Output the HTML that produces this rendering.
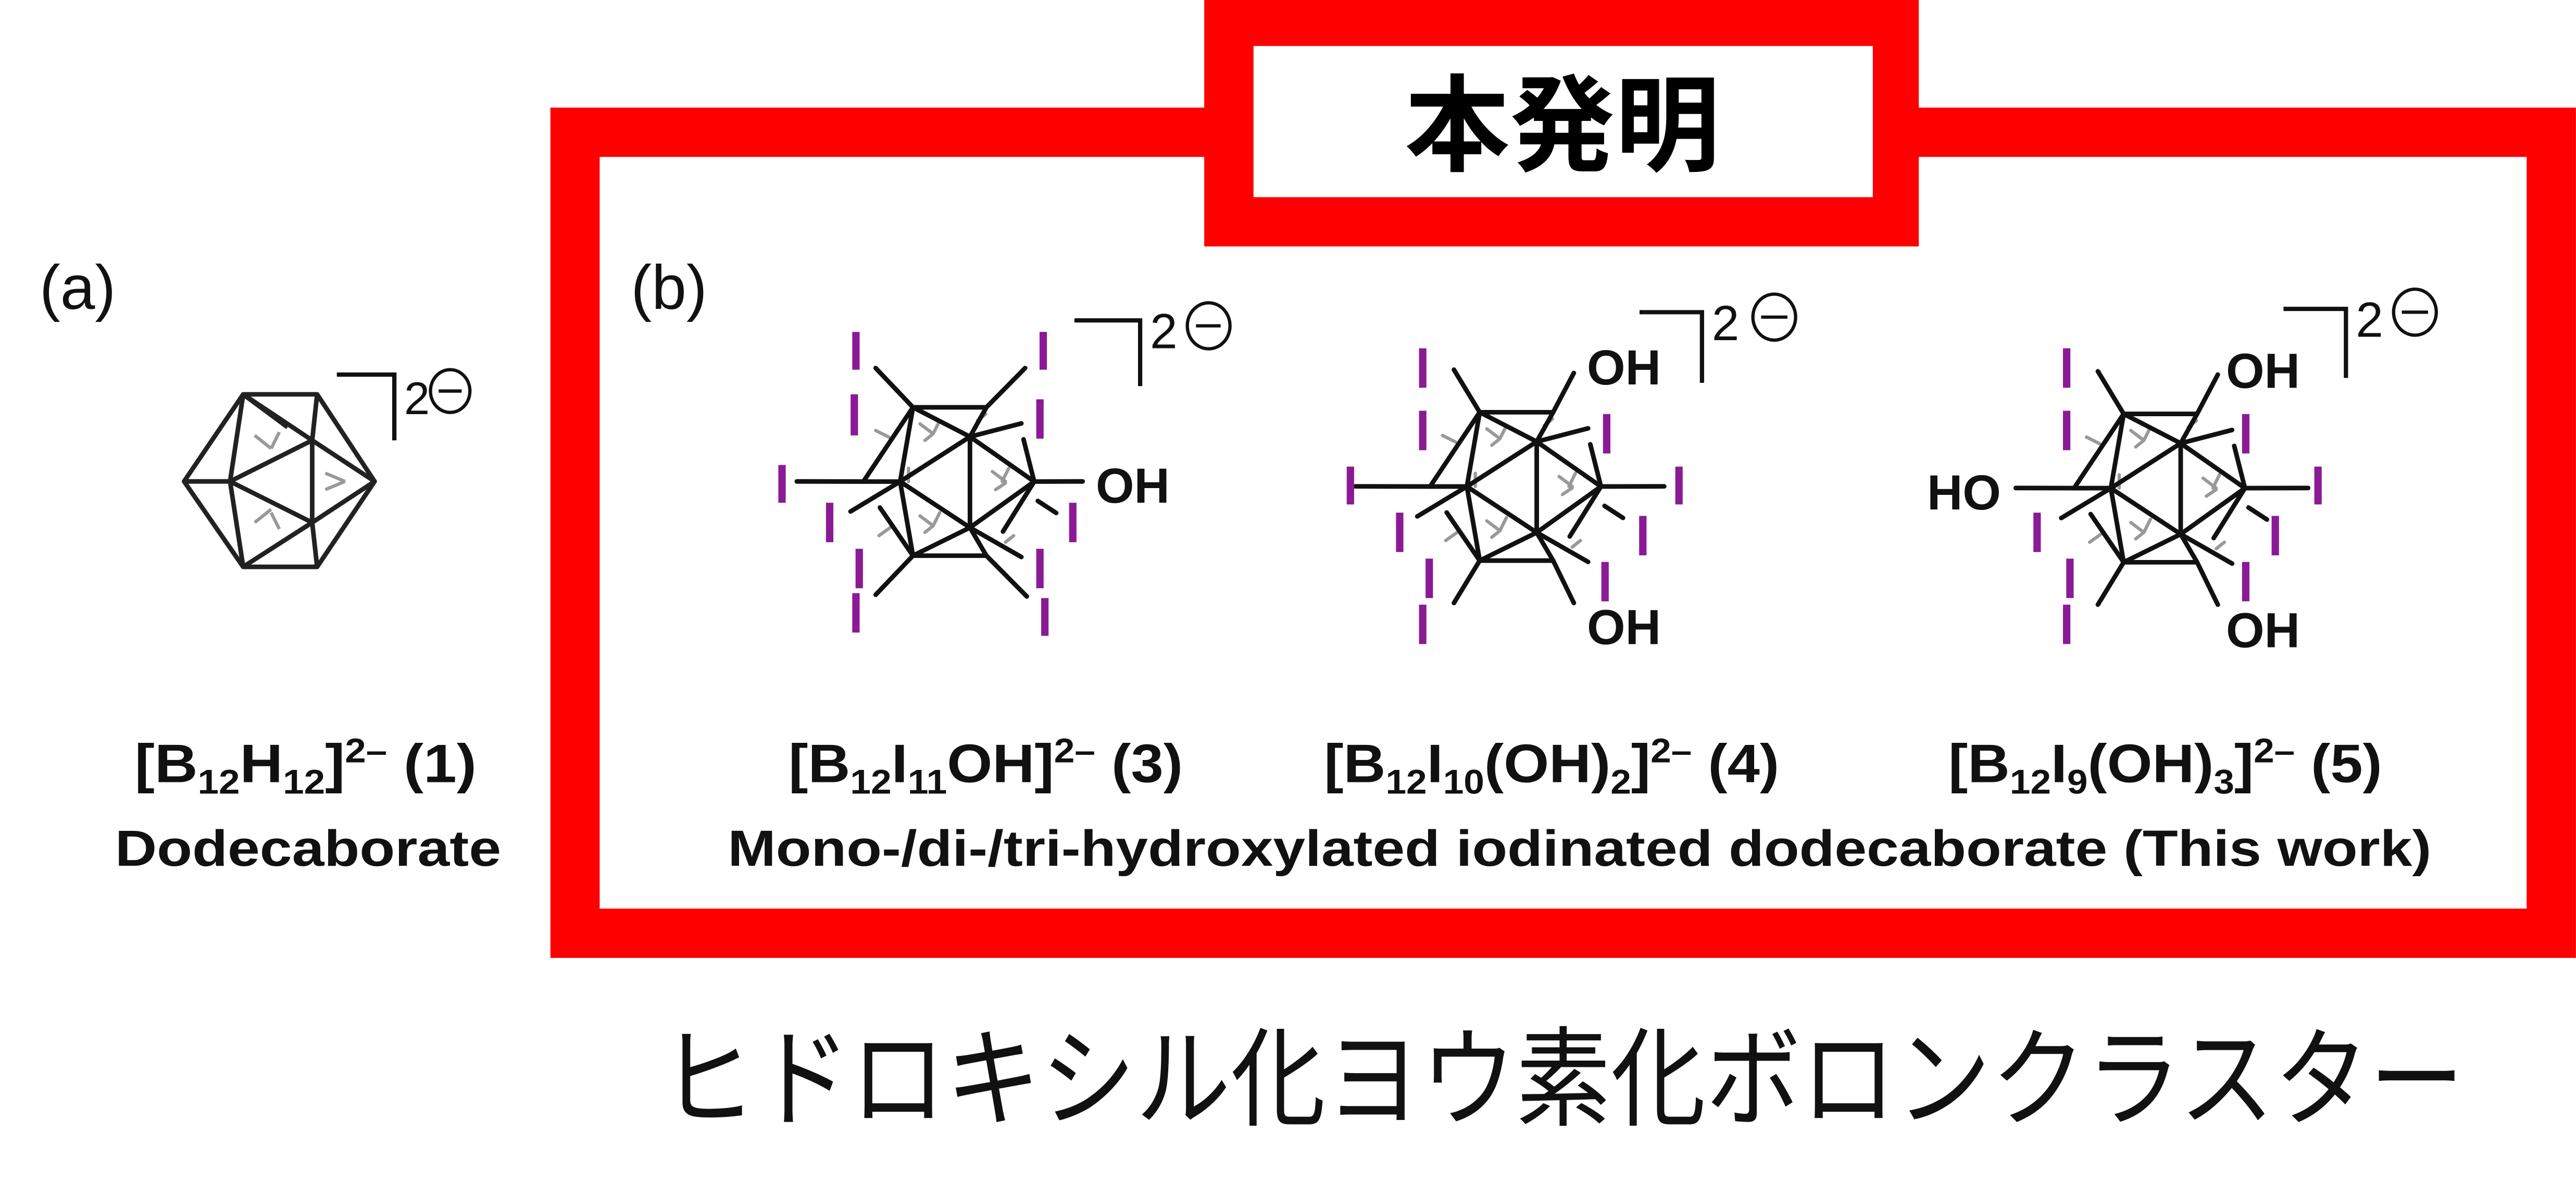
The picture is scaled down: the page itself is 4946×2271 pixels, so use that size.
<!DOCTYPE html>
<html><head><meta charset="utf-8">
<style>
html,body{margin:0;padding:0;background:#fff;}
svg{display:block;}
text{font-family:"Liberation Sans","Noto Sans CJK JP",sans-serif;}
</style></head>
<body>
<svg width="4946" height="2271" viewBox="0 0 1568 720" xmlns="http://www.w3.org/2000/svg">
<defs>
<g id="cl" stroke="#111" stroke-width="2.8" fill="none" stroke-linecap="round">
  <g stroke="#999" stroke-width="2">
    <path d="M560 258 l8 6 M572 256 l-4 8 M563 268 l5 -4"/>
    <path d="M560 314 l8 6 M572 312 l-4 8 M563 324 l5 -4"/>
    <path d="M604 287 l8 6 M614 285 l-4 8 M606 298 l6 -4"/>
    <path d="M533 262 l8 4 M535 326 l7 -5 M553 285 l0 8 M612 330 l5 -4 M600 252 l-5 4"/>
  </g>
  <path d="M555.7 247.9 L600.4 247.9 M555.7 247.9 L590.4 265.8 M555.7 247.9 L525.5 293.1 M555.7 247.9 L547.9 293.1 M600.4 247.9 L590.4 265.8 M590.4 265.8 L547.9 293.1 M590.4 265.8 L629.5 293.1 M590.4 265.8 L590.4 321.1 M525.5 293.1 L547.9 293.1 M547.9 293.1 L590.4 321.1 M547.9 293.1 L555.7 338.2 M590.4 321.1 L629.5 293.1 M590.4 321.1 L555.7 338.2 M555.7 338.2 L600.4 338.2 M600.4 338.2 L590.4 321.1"/>
  <path d="M623 267.4 L629.5 293.1 M610.5 323.5 L629.5 293.1 M535.6 308.9 L555.7 338.2 M590.4 265.8 L621.7 257.7 M547.9 293.1 L517.7 311.3 M590.4 321.1 L621.7 339 M631.7 304.9 L642.9 312.2"/>
</g>
</defs>

<rect x="350" y="80.5" width="1203" height="487.5" fill="none" stroke="#ff0000" stroke-width="30"/>
<rect x="733" y="0" width="435" height="150" fill="#ff0000"/>
<rect x="763" y="28" width="377" height="92" fill="#fff"/>
<text x="951" y="99" font-size="64" font-weight="bold" text-anchor="middle" fill="#000">本発明</text>

<text x="24" y="188" font-size="38" fill="#111">(a)</text>
<text x="384" y="188" font-size="38" fill="#111">(b)</text>

<g stroke="#222" stroke-width="2.8" fill="none" stroke-linejoin="round">
  <g stroke="#999" stroke-width="2"><path d="M155 265 l10 8 M170 263 l-5 10 M155 318 l10 -8 M170 322 l-5 -10 M198 288 l12 5 M198 298 l12 -5"/></g>
  <path d="M148 240 L193 240 L228 293 L193 345 L148 345 L112 293 Z"/>
  <path d="M148 240 L140 293 L148 345 M148 240 L190 268 L193 240 M190 268 L228 293 L190 318 L148 345 M140 293 L190 268 L190 318 L140 293 M112 293 L140 293 M193 345 L190 318 M148 240 L175 260"/>
</g>
<path d="M205 228 H240 V268" stroke="#111" stroke-width="2.6" fill="none"/>
<text x="246" y="252" font-size="28" fill="#111">2</text>
<ellipse cx="274" cy="238" rx="12" ry="13" fill="none" stroke="#111" stroke-width="2"/>
<path d="M267 238 H281" stroke="#111" stroke-width="2"/>

<use href="#cl"/>
<g stroke="#111" stroke-width="2.8" stroke-linecap="round">
  <path d="M555.7 247.9 L533 224 M600.4 247.9 L624 224 M525.5 293.1 L485 293 M629.5 293.1 L659 293 M555.7 338.2 L533 362 M600.4 338.2 L625 363"/>
</g>
<g stroke="#8b1a96" stroke-width="4.5">
  <path d="M521 202 V225 M635 202 V225 M520 240 V265 M633 243 V267 M476 283 V306 M505 306 V330 M653 306 V330 M523 334 V358 M633 334 V358 M521 361 V385 M636 364 V387"/>
</g>
<text x="667" y="306" font-size="30" font-weight="bold" fill="#111">OH</text>
<path d="M654 195 H694 V235" stroke="#111" stroke-width="2.6" fill="none"/>
<text x="700" y="212" font-size="30" fill="#111">2</text>
<ellipse cx="735.7" cy="198.3" rx="13" ry="14" fill="none" stroke="#111" stroke-width="2"/>
<path d="M728 198.3 H743" stroke="#111" stroke-width="2"/>

<g transform="translate(345,3)">
<use href="#cl"/>
<g stroke="#111" stroke-width="2.8" stroke-linecap="round">
  <path d="M555.7 247.9 L540 222 M600.4 247.9 L613 224 M525.5 293.1 L480 293 M629.5 293.1 L668 293 M555.7 338.2 L540 364 M600.4 338.2 L613 364"/>
</g>
</g>
<g stroke="#8b1a96" stroke-width="4.5">
  <path d="M866 212 V236 M866 250 V274 M978 252 V276 M822 284 V307 M1022 284 V307 M852 312 V336 M1000 314 V338 M870 340 V364 M977 342 V366 M866 368 V392"/>
</g>
<text x="966" y="234" font-size="30" font-weight="bold" fill="#111">OH</text>
<text x="966" y="392" font-size="30" font-weight="bold" fill="#111">OH</text>
<path d="M998 190 H1036 V233" stroke="#111" stroke-width="2.6" fill="none"/>
<text x="1042" y="207" font-size="30" fill="#111">2</text>
<ellipse cx="1080" cy="193" rx="13" ry="14" fill="none" stroke="#111" stroke-width="2"/>
<path d="M1072 193 H1088" stroke="#111" stroke-width="2"/>

<g transform="translate(737,4)">
<use href="#cl"/>
<g stroke="#111" stroke-width="2.8" stroke-linecap="round">
  <path d="M555.7 247.9 L540 222 M600.4 247.9 L613 224 M525.5 293.1 L490 293 M629.5 293.1 L668 293 M555.7 338.2 L540 364 M600.4 338.2 L613 364"/>
</g>
</g>
<g stroke="#8b1a96" stroke-width="4.5">
  <path d="M1258 212 V236 M1258 250 V274 M1367 252 V276 M1411 284 V307 M1240 312 V336 M1385 314 V338 M1260 340 V364 M1367 342 V366 M1258 368 V392"/>
</g>
<text x="1173" y="310" font-size="30" font-weight="bold" fill="#111">HO</text>
<text x="1355" y="236" font-size="30" font-weight="bold" fill="#111">OH</text>
<text x="1355" y="394" font-size="30" font-weight="bold" fill="#111">OH</text>
<path d="M1390 188 H1428 V230" stroke="#111" stroke-width="2.6" fill="none"/>
<text x="1434" y="205" font-size="30" fill="#111">2</text>
<ellipse cx="1470" cy="190" rx="13" ry="14" fill="none" stroke="#111" stroke-width="2"/>
<path d="M1462 190 H1478" stroke="#111" stroke-width="2"/>

<g font-weight="bold" fill="#111" font-size="33">
<text x="82" y="476" textLength="208" lengthAdjust="spacingAndGlyphs">[B<tspan font-size="21" dy="7">12</tspan><tspan dy="-7">H</tspan><tspan font-size="21" dy="7">12</tspan><tspan dy="-7">]</tspan><tspan font-size="21" dy="-12">2–</tspan><tspan dy="12"> (1)</tspan></text>
<text x="70" y="527" font-size="31" textLength="235" lengthAdjust="spacingAndGlyphs">Dodecaborate</text>
<text x="480" y="476" textLength="240" lengthAdjust="spacingAndGlyphs">[B<tspan font-size="21" dy="7">12</tspan><tspan dy="-7">I</tspan><tspan font-size="21" dy="7">11</tspan><tspan dy="-7">OH]</tspan><tspan font-size="21" dy="-12">2–</tspan><tspan dy="12"> (3)</tspan></text>
<text x="806" y="476" textLength="277" lengthAdjust="spacingAndGlyphs">[B<tspan font-size="21" dy="7">12</tspan><tspan dy="-7">I</tspan><tspan font-size="21" dy="7">10</tspan><tspan dy="-7">(OH)</tspan><tspan font-size="21" dy="7">2</tspan><tspan dy="-7">]</tspan><tspan font-size="21" dy="-12">2–</tspan><tspan dy="12"> (4)</tspan></text>
<text x="1186" y="476" textLength="264" lengthAdjust="spacingAndGlyphs">[B<tspan font-size="21" dy="7">12</tspan><tspan dy="-7">I</tspan><tspan font-size="21" dy="7">9</tspan><tspan dy="-7">(OH)</tspan><tspan font-size="21" dy="7">3</tspan><tspan dy="-7">]</tspan><tspan font-size="21" dy="-12">2–</tspan><tspan dy="12"> (5)</tspan></text>
<text x="443" y="527" font-size="31" textLength="1037" lengthAdjust="spacingAndGlyphs">Mono-/di-/tri-hydroxylated iodinated dodecaborate (This work)</text>
</g>

<text x="402" y="680" font-size="66" fill="#111" textLength="1098" lengthAdjust="spacingAndGlyphs">ヒドロキシル化ヨウ素化ボロンクラスター</text>
</svg>
</body></html>
